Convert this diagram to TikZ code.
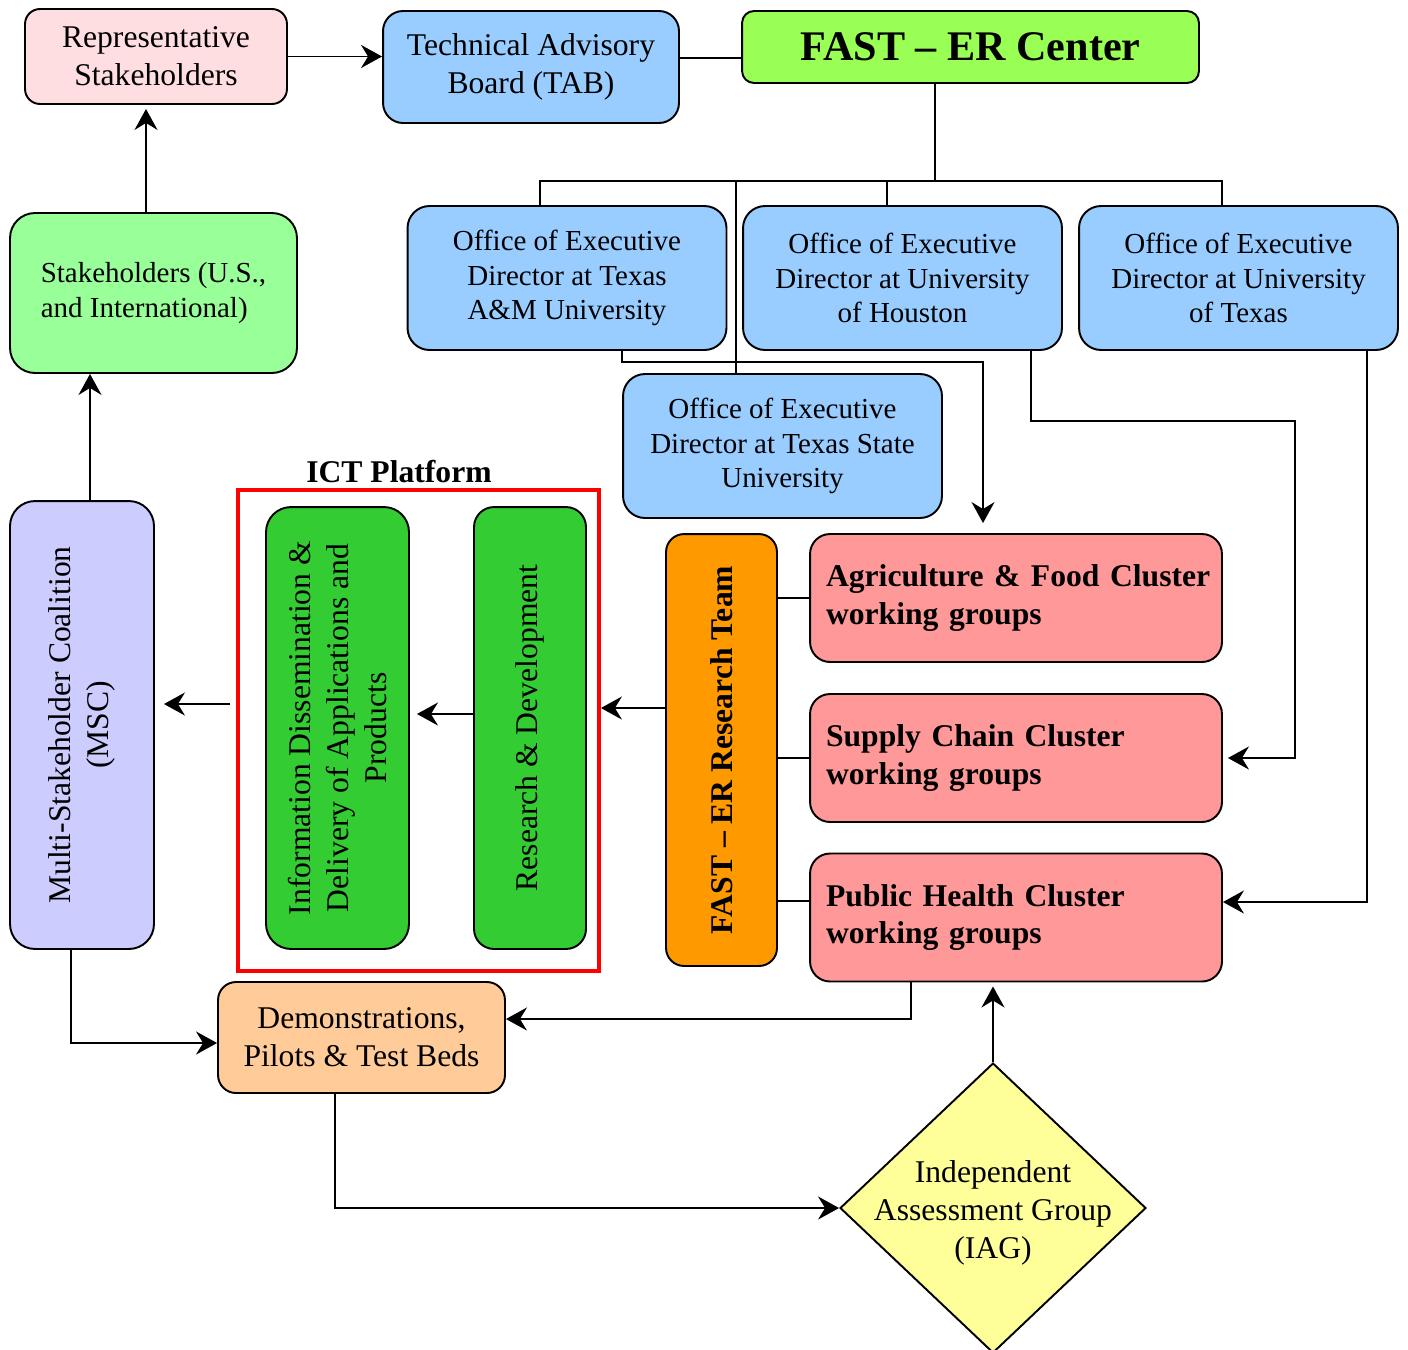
\documentclass[tikz,border=0pt]{standalone}
\usepackage{fontspec}
\setmainfont{Liberation Serif}
\usepackage{xcolor}
\usepackage{tikz}
\usetikzlibrary{arrows.meta, positioning, shapes.geometric}

\definecolor{reppink}{HTML}{FFDEE2}
\definecolor{officeblue}{HTML}{99CCFF}
\definecolor{centergreen}{HTML}{99FF55}
\definecolor{stakegreen}{HTML}{99FF99}
\definecolor{clusterred}{HTML}{FF9999}
\definecolor{teamorange}{HTML}{FF9900}
\definecolor{ictgreen}{HTML}{33CC33}
\definecolor{msclilac}{HTML}{CCCCFF}
\definecolor{demopeach}{HTML}{FFCC99}
\definecolor{iagyellow}{HTML}{FFFF99}

\begin{document}
\begin{tikzpicture}[
    x=0.02cm, y=-0.02cm,
    line width=1.1pt,
    box/.style={rectangle, rounded corners=0.4cm, draw=black, align=center, inner sep=2pt, font=\fontsize{18}{21.5}\selectfont},
    office/.style={box, fill=officeblue, minimum width=6.38cm, minimum height=2.88cm, rounded corners=0.44cm, font=\fontsize{16.5}{19.5}\selectfont},
    cluster/.style={box, fill=clusterred, minimum width=8.24cm, minimum height=2.56cm, text width=7.6cm, align=left, font=\bfseries\fontsize{18}{21.5}\selectfont},
    vbox/.style={box, rotate=90},
    arrow/.style={-{Stealth[length=0.42cm, width=0.46cm, inset=0.14cm]}}
]
\useasboundingbox (0,0) rectangle (1408,1349);

\node[box, fill=reppink, minimum width=5.24cm, minimum height=1.90cm, rounded corners=0.3cm] (rep) at (156,56.5) {Representative\\Stakeholders};
\node[box, fill=officeblue, minimum width=5.92cm, minimum height=2.24cm] (tab) at (531,67) {Technical Advisory\\Board (TAB)};
\node[box, fill=centergreen, minimum width=9.14cm, minimum height=1.44cm, rounded corners=0.24cm, font=\bfseries\fontsize{24}{28}\selectfont] (fast) at (970.5,47) {FAST – ER Center};

\node[office] (tamu) at (567,278) {Office of Executive\\Director at Texas\\A\&M University};
\node[office] (uh) at (902.5,278) {Office of Executive\\Director at University\\of Houston};
\node[office] (ut) at (1238.5,278) {Office of Executive\\Director at University\\of Texas};
\node[office] (txst) at (782.5,446) {Office of Executive\\Director at Texas State\\University};

\node[box, fill=stakegreen, minimum width=5.74cm, minimum height=3.2cm, rounded corners=0.5cm, align=left, font=\fontsize{16.5}{19.5}\selectfont] (stake) at (153.5,293) {Stakeholders (U.S.,\\and International)};

\node[cluster] (ag) at (1016,598) {\mbox{Agriculture \& Food Cluster}\\working groups};
\node[cluster] (supply) at (1016,758) {Supply Chain Cluster\\working groups};
\node[cluster] (ph) at (1016,917.5) {Public Health Cluster\\working groups};

\node[vbox, fill=teamorange, minimum width=8.64cm, minimum height=2.22cm, rounded corners=0.36cm, font=\bfseries\fontsize{18}{21.5}\selectfont] (team) at (721.5,750) {FAST – ER Research Team};

\node[draw=red, line width=2.2pt, minimum width=7.22cm, minimum height=9.62cm] (ict) at (418.5,730.5) {};
\node[font=\bfseries\fontsize{18}{21.5}\selectfont] (ictlabel) at (399,472) {ICT Platform};
\node[vbox, fill=ictgreen, minimum width=8.84cm, minimum height=2.86cm, rounded corners=0.5cm] (info) at (337.5,728) {Information Dissemination \&\\Delivery of Applications and\\Products};
\node[vbox, fill=ictgreen, minimum width=8.84cm, minimum height=2.24cm, rounded corners=0.4cm] (rnd) at (530,728) {Research \& Development};

\node[vbox, fill=msclilac, minimum width=8.96cm, minimum height=2.88cm, rounded corners=0.5cm] (msc) at (82,725) {Multi-Stakeholder Coalition\\(MSC)};
\node[box, fill=demopeach, minimum width=5.74cm, minimum height=2.22cm, rounded corners=0.36cm] (demo) at (361.5,1037.5) {Demonstrations,\\Pilots \& Test Beds};
\node[diamond, draw=black, fill=iagyellow, minimum width=6.12cm, minimum height=5.8cm, inner sep=0pt,
      label={[align=center, yshift=-0.1cm, font=\fontsize{18}{21.5}\selectfont]center:Independent\\Assessment Group\\(IAG)}] (iag) at (993,1208) {};

\coordinate (bus) at (935,181);
\coordinate (uhbend) at (1295,421);
\coordinate (tabout) at ([yshift=0.18cm]tab.east);
\coordinate (phin) at ([yshift=0.33cm]ph.west);
\coordinate (teamout) at ([yshift=0.84cm]team.north);
\coordinate (rndout) at ([yshift=0.28cm]rnd.north);
\coordinate (ictout) at ([xshift=-0.12cm, yshift=0.53cm]ict.west);
\coordinate (mscup) at ([xshift=0.16cm]msc.east);
\coordinate (stakeup) at ([xshift=-0.15cm]stake.north);

\draw[arrow] (rep.east) -- (rep.east -| tab.west);
\draw (tabout) -- (tabout -| fast.west);
\draw ([xshift=-0.71cm]fast.south) -- (bus);
\draw ([xshift=-0.54cm]tamu.north) |- (bus) -| ([xshift=-0.33cm]ut.north);
\draw ([xshift=-0.31cm]uh.north) |- (bus);
\draw ([xshift=-0.93cm]txst.north) |- (bus);

\draw[arrow, shorten >=0.2cm] ([xshift=1.1cm]tamu.south) -- ++(0,11) -| ([xshift=-0.66cm]ag.north);
\draw[arrow, shorten >=0.1cm] ([xshift=2.57cm]uh.south) |- (uhbend) |- (supply.east);
\draw[arrow] ([xshift=2.57cm]ut.south) |- ([yshift=0.31cm]ph.east);

\draw (ag.west) -- (ag.west -| team.south);
\draw (supply.west) -- (supply.west -| team.south);
\draw (phin) -- (phin -| team.south);

\draw[arrow] (teamout) -- (teamout -| ict.east);
\draw[arrow, shorten >=0.14cm] (rndout) -- (rndout -| info.south);
\draw[arrow, shorten >=0.18cm] (ictout) -- (ictout -| msc.south);
\draw[arrow] (mscup) -- (mscup |- stake.south);
\draw[arrow, shorten >=0.08cm] (stakeup) -- (stakeup |- rep.south);

\draw[arrow] ([xshift=-0.22cm]msc.west) |- ([yshift=-0.11cm]demo.west);
\draw[arrow] ([xshift=-2.1cm]ph.south) |- ([yshift=0.37cm]demo.east);
\draw[arrow] ([xshift=-0.53cm]demo.south) |- (iag.west);
\draw[arrow, shorten >=0.08cm] (iag.north) -- (iag.north |- ph.south);

\end{tikzpicture}
\end{document}
